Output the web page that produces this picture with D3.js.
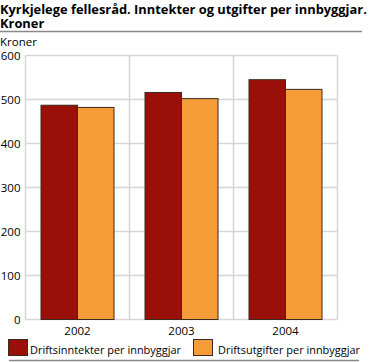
<!DOCTYPE html>
<html lang="no">
<head>
<meta charset="utf-8">
<title>Kyrkjelege fellesråd</title>
<script src="https://cdn.jsdelivr.net/npm/d3@7"></script>
<style>
  body { margin: 0; background: #fff; }
  svg text { font-family: "Open Sans", "DejaVu Sans", sans-serif; fill: #000; }
  .title { font-weight: bold; font-size: 13px; }
  .lbl { font-size: 11.5px; }
  .leg { font-size: 11.5px; }
</style>
</head>
<body>
<div id="chart"></div>
<script>
// data
var aar = ["2002", "2003", "2004"];
var inntekter = [487, 516, 545];
var utgifter = [482, 502, 523];
var serieNavn = ["Driftsinntekter per innbyggjar", "Driftsutgifter per innbyggjar"];
var farger = ["#9a0f08", "#f59c36"];
var yTicks = [0, 100, 200, 300, 400, 500, 600];

var W = 371, H = 362;
var m = {top: 55.5, left: 25.5, right: 33.5, bottom: 42.5};
var iw = W - m.left - m.right, ih = H - m.top - m.bottom;

var svg = d3.select("#chart").append("svg").attr("width", W).attr("height", H);

// tilpass skriftstorleik til ei gitt breidd
function fit(sel, w) {
  var n = sel.node(), fs = parseFloat(getComputedStyle(n).fontSize);
  var len = n.getComputedTextLength();
  if (len > 0) sel.style("font-size", (fs * w / len).toFixed(2) + "px");
}

// tittel
var t1 = svg.append("text").attr("class", "title").attr("x", 0).attr("y", 14)
  .text("Kyrkjelege fellesråd. Inntekter og utgifter per innbyggjar.");
fit(t1, 367);
svg.append("text").attr("class", "title").attr("x", 0).attr("y", 28).text("Kroner")
  .style("font-size", t1.style("font-size"));
svg.append("line").attr("x1", 0).attr("x2", 362).attr("y1", 31.5).attr("y2", 31.5)
  .attr("stroke", "#8a8a8a").attr("stroke-width", 1.5);
svg.append("text").attr("class", "lbl").attr("x", 0).attr("y", 46).text("Kroner");

var g = svg.append("g").attr("transform", "translate(" + m.left + "," + m.top + ")");

var x = d3.scaleBand().domain(aar).range([0, iw]).paddingInner(0).paddingOuter(0);
var y = d3.scaleLinear().domain([0, 600]).range([ih, 0]);
var bw = 36.5;

// rutenett
g.selectAll(".hg").data(yTicks).enter().append("line")
  .attr("x1", 0).attr("x2", iw).attr("y1", d => y(d)).attr("y2", d => y(d))
  .attr("stroke", "#d6d6d6").attr("stroke-width", 1.5);
g.selectAll(".vg").data([0, 1, 2, 3]).enter().append("line")
  .attr("x1", i => i * x.bandwidth()).attr("x2", i => i * x.bandwidth())
  .attr("y1", 0).attr("y2", ih)
  .attr("stroke", "#d6d6d6").attr("stroke-width", 1.5);

// y-akse
var ya = g.append("g").call(d3.axisLeft(y).tickValues(yTicks).tickSize(0).tickPadding(5));
ya.select(".domain").remove();
ya.selectAll("text").style("font-size", "11.5px").attr("fill", "#000");

// x-akse
var xa = g.append("g").attr("transform", "translate(0," + ih + ")")
  .call(d3.axisBottom(x).tickSize(0).tickPadding(7));
xa.select(".domain").remove();
xa.selectAll("text").style("font-size", "11.5px").attr("fill", "#000");

// stolper
var serier = [inntekter, utgifter];
serier.forEach(function(vals, s) {
  g.selectAll(".bar" + s).data(aar).enter().append("rect")
    .attr("x", (d, i) => x(d) + x.bandwidth() / 2 - bw + s * bw)
    .attr("y", (d, i) => y(vals[i]))
    .attr("width", bw)
    .attr("height", (d, i) => ih - y(vals[i]))
    .attr("fill", farger[s])
    .attr("stroke", "#3a2a20").attr("stroke-width", 1);
});

// forklaring
var leg = [{x: 8.5, tx: 30, w: 151}, {x: 193.5, tx: 218, w: 142}];
leg.forEach(function(p, s) {
  svg.append("rect").attr("x", p.x).attr("y", 339.5).attr("width", 19).attr("height", 16)
    .attr("fill", farger[s]).attr("stroke", "#3a2a20").attr("stroke-width", 1);
  var t = svg.append("text").attr("class", "leg").attr("x", p.tx).attr("y", 354).text(serieNavn[s]);
  fit(t, p.w);
});
svg.append("line").attr("x1", 9).attr("x2", 359).attr("y1", 360.5).attr("y2", 360.5)
  .attr("stroke", "#8a8a8a").attr("stroke-width", 1.5);
</script>
</body>
</html>
